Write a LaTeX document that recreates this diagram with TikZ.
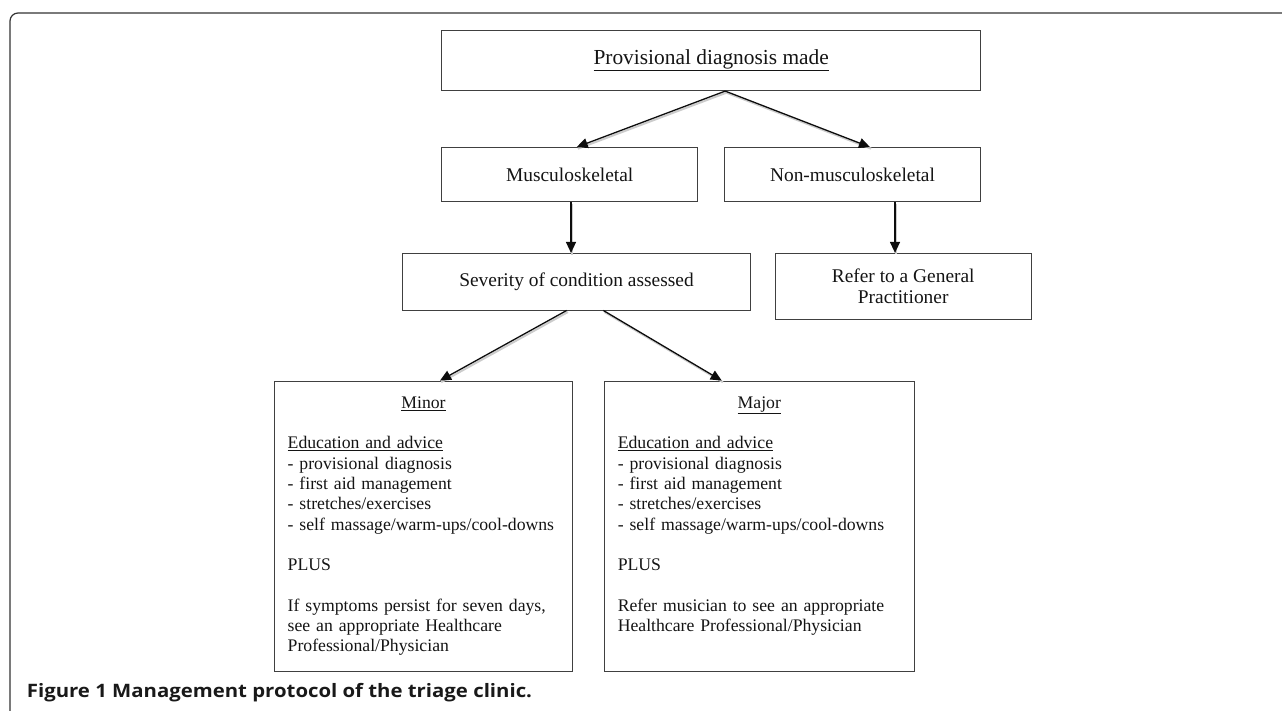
\documentclass[tikz,border=0pt]{standalone}
\usepackage{fontspec}
\setmainfont{Liberation Serif}
\newfontfamily\capfont[FakeStretch=1.1]{Open Sans}
\usetikzlibrary{arrows.meta,calc}
\begin{document}
\begin{tikzpicture}[x=1pt,y=1pt,
  box/.style={draw=black!75, line width=0.8pt, rectangle, inner sep=0pt, text=black!92},
  conn/.style={draw=black!95, line width=1.3pt, -{Triangle[length=11pt,width=10pt]},
    preaction={draw=black!20, line width=2pt, -, transform canvas={shift={(1.2pt,-1.6pt)}}}},
  lbl/.style={font=\fontsize{19.4}{21.7}\selectfont},
  lst/.style={font=\fontsize{17.7}{20.3}\selectfont, align=left}]
\useasboundingbox (0,0) rectangle (1282,-711);
% frame
\draw[line width=1.2pt, draw=black!80, rounded corners=8pt] (1295,-13) -- (10,-13) -- (10,-725);
% boxes
\node[box, minimum width=539pt, minimum height=60.7pt, font=\fontsize{21.4}{24}\selectfont] (top) at (711.2,-60.35) {\underline{Provisional diagnosis made}};
\node[box, lbl, minimum width=256pt, minimum height=54.2pt] (musc) at (569.7,-174.6) {Musculoskeletal};
\node[box, lbl, minimum width=256.4pt, minimum height=54.2pt] (nonmusc) at (852.5,-174.6) {Non-musculoskeletal};
\node[box, lbl, minimum width=348.4pt, minimum height=56.7pt] (sev) at (576.5,-281.7) {Severity of condition assessed};
\node[box, lbl, align=center, minimum width=255.7pt, minimum height=66pt] (refer) at (903.2,-286.3) {Refer to a General\\Practitioner};
\node[box, lst, text width=271.6pt, minimum width=298.4pt, minimum height=290pt] (minor) at (423.5,-526) {%
\makebox[\hsize]{\underline{Minor}}\strut\\[20.3pt]
\underline{Education and advice}\\
- provisional diagnosis\\
- first aid management\\
- stretches/exercises\\
- self massage/warm-ups/cool-downs\\[20.3pt]
PLUS\\[20.3pt]
If symptoms persist for seven days,\\
see an appropriate Healthcare\\
Professional/Physician\strut};
\node[box, lst, text width=283pt, minimum width=310pt, minimum height=290pt] (major) at (759.3,-526) {%
\makebox[\hsize]{\underline{Major}}\strut\\[20.3pt]
\underline{Education and advice}\\
- provisional diagnosis\\
- first aid management\\
- stretches/exercises\\
- self massage/warm-ups/cool-downs\\[20.3pt]
PLUS\\[20.3pt]
Refer musician to see an appropriate\\
Healthcare Professional/Physician\\
\strut};
% caption
\node[anchor=base west, inner sep=0pt, text=black!90, font={\capfont\bfseries\fontsize{18.5}{20}\selectfont}] (cap) at (26.7,-697) {Figure 1 Management protocol of the triage clinic.};
% connectors
\coordinate (ts) at ($(top.south)+(14,0)$);
\draw[conn] (ts) -- ($(musc.north)+(7,0)$);
\draw[conn] (ts) -- ($(nonmusc.north)+(17.5,0)$);
\coordinate (ms) at ($(musc.south)+(1.3,0)$);
\draw[conn] (ms) -- (ms |- sev.north);
\coordinate (ns) at ($(nonmusc.south)+(42.5,0)$);
\draw[conn] (ns) -- (ns |- refer.north);
\draw[conn] ($(sev.south)+(-9.8,0)$) -- ($(minor.north)+(16.5,0)$);
\draw[conn] ($(sev.south)+(26.8,0)$) -- ($(major.north)+(-37.6,0)$);
\end{tikzpicture}
\end{document}
